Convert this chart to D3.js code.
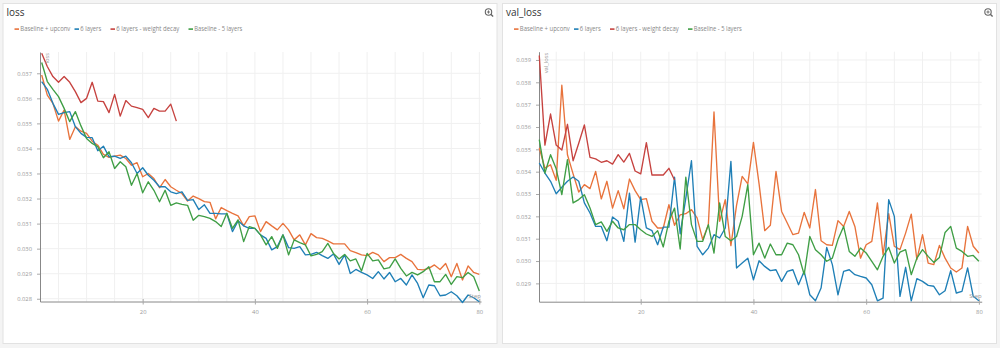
<!DOCTYPE html>
<html><head><meta charset="utf-8">
<script src="https://cdn.jsdelivr.net/npm/d3@7"></script>
<style>
html,body{margin:0;padding:0;background:#f4f4f4;}
svg{display:block;font-family:"Open Sans",sans-serif;}
</style></head>
<body><svg id="c" width="1000" height="348"></svg>
<script>
const steps = [2,3,4,5,6,7,8,9,10,11,12,13,14,15,16,17,18,19,20,21,22,23,24,25,26,27,28,29,30,31,32,33,34,35,36,37,38,39,40,41,42,43,44,45,46,47,48,49,50,51,52,53,54,55,56,57,58,59,60,61,62,63,64,65,66,67,68,69,70,71,72,73,74,75,76,77,78,79,80];
const seriesNames = ["Baseline + upconv","6 layers","6 layers - weight decay","Baseline - 5 layers"];
const seriesColors = ["#e8733c","#1f7fb6","#c6423f","#3f9e45"];

// loss
const lossUpconv = [0.03693,0.03613,0.0358,0.03509,0.03553,0.03436,0.03487,0.03469,0.0346,0.03429,0.03413,0.03376,0.03364,0.03369,0.03373,0.0336,0.03333,0.03343,0.03287,0.033,0.0328,0.03243,0.03276,0.03247,0.03233,0.0322,0.0319,0.0321,0.0320,
 0.03188,0.03185,0.03119,0.03164,0.03152,0.03141,0.03131,0.03091,0.03128,0.03131,0.03068,0.03108,0.03091,0.03075,0.03101,0.03075,0.03035,0.03055,0.03015,0.0306,0.03044,0.03041,0.03031,0.03019,0.03019,
 0.03019,0.02992,0.02984,0.02975,0.02972,0.02985,0.02975,0.02948,0.02964,0.02964,0.02977,0.02961,0.02948,0.02917,0.02915,0.02921,0.02935,0.02917,0.02941,0.02888,0.02941,0.02875,0.02931,0.02905,0.02897];
const loss6 = [0.03667,0.03636,0.0358,0.03536,0.03543,0.03547,0.03487,0.0346,0.03444,0.03443,0.03391,0.03409,0.03367,0.03369,0.0336,0.03369,0.03343,0.033,0.03323,0.03293,0.03273,0.03247,0.03247,0.03227,0.0322,0.03227,0.03193,0.03196,0.03156,
 0.03175,0.03141,0.03141,0.03139,0.03139,0.03068,0.03111,0.03091,0.03081,0.03081,0.03055,0.03041,0.02995,0.03008,0.03055,0.03004,0.03001,0.03008,0.02975,0.02977,0.02985,0.02972,0.02961,0.02979,0.02937,
 0.02975,0.02901,0.02917,0.02905,0.02895,0.02881,0.02908,0.02879,0.02905,0.02868,0.02881,0.02855,0.02895,0.02861,0.02804,0.02855,0.02852,0.02812,0.02815,0.02828,0.02812,0.02785,0.02815,0.02804,0.02788];
const lossWd = [0.0378,0.03727,0.03687,0.03664,0.03687,0.03664,0.03627,0.03583,0.0360,0.03664,0.03589,0.03587,0.03543,0.03616,0.03529,0.03591,0.03569,0.03563,0.03556,0.03523,0.0356,0.03549,0.03549,0.03577,0.03509];
const loss5 = [0.03743,0.03667,0.03636,0.03607,0.0356,0.03507,0.03547,0.0349,0.0344,0.0342,0.03407,0.03363,0.03387,0.0332,0.03347,0.03327,0.03253,0.033,0.03223,0.03267,0.03233,0.03187,0.03233,0.03173,0.03183,0.03177,0.03173,0.03113,0.03133,
 0.03128,0.03121,0.03108,0.03088,0.03141,0.03081,0.03115,0.03028,0.03088,0.03081,0.03055,0.03015,0.03048,0.03001,0.03055,0.02975,0.03035,0.03024,0.03015,0.02971,0.02977,0.02988,0.03021,0.02981,0.02959,
 0.02977,0.02951,0.02959,0.02911,0.02981,0.02951,0.02955,0.02919,0.02924,0.02959,0.02921,0.02891,0.02905,0.02895,0.02908,0.02928,0.02868,0.02868,0.02897,0.02857,0.02888,0.02884,0.02905,0.02888,0.02831];

// val_loss
const valUpconv = [0.03506,0.03416,0.03431,0.03361,0.03787,0.03476,0.0339,0.03309,0.03342,0.03324,0.03401,0.03278,0.03357,0.03237,0.03315,0.03234,0.03367,0.03315,0.03275,0.03279,0.03178,0.03148,0.03148,0.03252,0.0316,0.03207,0.03212,0.0323,
 0.03193,0.03096,0.03163,0.03667,0.03178,0.03275,0.03069,0.03249,0.03379,0.03345,0.03531,0.03345,0.03136,0.0316,0.03401,0.03222,0.0317,0.03118,0.03125,0.03218,0.03148,0.0332,0.03091,0.03073,0.0307,0.03181,
 0.03155,0.03222,0.03155,0.03013,0.03073,0.03088,0.0326,0.03028,0.03212,0.03066,0.03051,0.03125,0.0321,0.03006,0.03118,0.02991,0.02984,0.0307,0.03013,0.02969,0.02951,0.02969,0.03155,0.03066,0.03036];
const val6 = [0.03439,0.03394,0.03357,0.03301,0.0333,0.03357,0.03376,0.03357,0.0326,0.03215,0.03155,0.03155,0.03091,0.03197,0.03178,0.03088,0.03304,0.03085,0.03287,0.03148,0.03136,0.03073,0.03152,0.03152,0.03375,0.03122,0.03282,0.03449,
 0.03066,0.03028,0.03058,0.03118,0.03103,0.03148,0.03446,0.02969,0.02991,0.03013,0.02916,0.03001,0.02976,0.02957,0.02961,0.02909,0.02954,0.02961,0.02894,0.02954,0.02849,0.02822,0.02879,0.03061,0.02984,0.02849,
 0.02954,0.02961,0.02939,0.02931,0.02924,0.02894,0.02822,0.02834,0.03275,0.032,0.02842,0.02972,0.02822,0.02921,0.02909,0.02891,0.02887,0.02849,0.02867,0.02957,0.02857,0.02864,0.02969,0.02842,0.02822];
const valWd = [0.0392,0.03519,0.03658,0.03519,0.03497,0.03612,0.03449,0.03527,0.03609,0.03464,0.03457,0.03442,0.03449,0.03434,0.03476,0.03443,0.03482,0.03403,0.0339,0.0353,0.03385,0.03385,0.03385,0.03415,0.03363];
const val5 = [0.03543,0.03394,0.03476,0.03413,0.03297,0.03454,0.0326,0.03275,0.03297,0.03237,0.03163,0.03175,0.03133,0.03178,0.03148,0.0314,0.03163,0.03163,0.0314,0.03121,0.0311,0.03136,0.03063,0.03178,0.03237,0.03054,0.03375,0.03163,
 0.03088,0.03088,0.03163,0.03036,0.0326,0.0311,0.03091,0.0311,0.032,0.03342,0.03028,0.0308,0.03013,0.03076,0.03028,0.03028,0.0308,0.03073,0.03028,0.02939,0.0311,0.03051,0.03028,0.02999,0.03013,0.03096,
 0.03155,0.03043,0.03021,0.03058,0.03036,0.02999,0.02961,0.03021,0.03061,0.02991,0.0304,0.03051,0.02939,0.03013,0.03051,0.03021,0.02994,0.03016,0.03128,0.03155,0.03058,0.03043,0.03021,0.03025,0.02999];

const xTicks = [20,40,60,80];
const lossYTicks = [0.028,0.029,0.030,0.031,0.032,0.033,0.034,0.035,0.036,0.037];
const valYTicks = [0.029,0.030,0.031,0.032,0.033,0.034,0.035,0.036,0.037,0.038,0.039];
const gridSteps = [5,10,15,20,25,30,35,40,45,50,55,60,65,70,75,80];

const svg = d3.select("#c");

function panel(cfg){
  const g = svg.append("g");
  g.append("rect").attr("x",cfg.px+0.5).attr("y",3.5).attr("width",cfg.pw).attr("height",340)
    .attr("fill","#fff").attr("stroke","#e2e2e2");
  g.append("text").attr("x",cfg.px+4).attr("y",16).attr("font-size",10).attr("fill","#333").text(cfg.title);
  const ix = cfg.px+cfg.pw-8, iy = 12;
  g.append("circle").attr("cx",ix).attr("cy",iy).attr("r",3.2).attr("fill","none").attr("stroke","#666").attr("stroke-width",1.1);
  g.append("line").attr("x1",ix+2.3).attr("y1",iy+2.3).attr("x2",ix+4.6).attr("y2",iy+4.6).attr("stroke","#666").attr("stroke-width",1.4);
  g.append("line").attr("x1",ix-1.6).attr("y1",iy).attr("x2",ix+1.6).attr("y2",iy).attr("stroke","#666").attr("stroke-width",0.9);
  g.append("line").attr("x1",ix).attr("y1",iy-1.6).attr("x2",ix).attr("y2",iy+1.6).attr("stroke","#666").attr("stroke-width",0.9);
  // legend
  const legX = [12,72,108,186];
  const legW = [50,21,63,48];
  seriesNames.forEach((n,i)=>{
    const lx = cfg.px + legX[i];
    g.append("rect").attr("x",lx).attr("y",28.3).attr("width",4.5).attr("height",1.6).attr("fill",seriesColors[i]);
    g.append("text").attr("x",lx+5.8).attr("y",31.4).attr("font-size",6.2).attr("fill","#888")
      .attr("textLength",legW[i]).attr("lengthAdjust","spacingAndGlyphs").text(n);
  });

  const x = d3.scaleLinear().domain(cfg.xd).range(cfg.xr);
  const y = d3.scaleLinear().domain(cfg.yd).range(cfg.yr);
  g.append("g").selectAll("line").data(gridSteps).join("line")
    .attr("x1",d=>x(d)).attr("x2",d=>x(d)).attr("y1",cfg.yr[1]).attr("y2",cfg.yr[0])
    .attr("stroke","#f0f0f0").attr("stroke-width",1);
  g.append("g").selectAll("line").data(cfg.yTicks).join("line")
    .attr("x1",cfg.xr[0]).attr("x2",cfg.xr[1]).attr("y1",d=>y(d)).attr("y2",d=>y(d))
    .attr("stroke","#f0f0f0").attr("stroke-width",1);
  const ya = g.append("g").attr("transform",`translate(${cfg.xr[0]},0)`)
    .call(d3.axisLeft(y).tickValues(cfg.yTicks).tickFormat(d3.format(".3f")).tickSize(3).tickSizeOuter(0));
  ya.select(".domain").attr("stroke","#888");
  ya.selectAll(".tick line").attr("stroke","#aaa");
  ya.selectAll(".tick text").attr("font-size",5.8).attr("fill","#999").attr("font-family","Open Sans").attr("x",-8);
  const xa = g.append("g").attr("transform",`translate(0,${cfg.yr[0]})`)
    .call(d3.axisBottom(x).tickValues(xTicks).tickSize(3).tickSizeOuter(0));
  xa.select(".domain").attr("stroke","#888");
  xa.selectAll(".tick line").attr("stroke","#aaa").attr("y1",-2.5).attr("y2",3);
  xa.selectAll(".tick text").attr("font-size",5.8).attr("fill","#999").attr("font-family","Open Sans").attr("y",8);

  const line = d3.line().x(d=>x(d[0])).y(d=>y(d[1]));
  [0,1,2,3].forEach(i=>{
    const vals = cfg.series[i];
    const pts = vals.map((v,k)=>[steps[k],v]);
    g.append("path").datum(pts).attr("d",line).attr("fill","none")
      .attr("stroke",seriesColors[i]).attr("stroke-width",1.35).attr("stroke-linejoin","round");
  });
  g.append("text").attr("transform",`translate(${cfg.xr[0]+8.5},${cfg.yr[1]+1}) rotate(-90)`)
    .attr("text-anchor","end").attr("font-size",5.8).attr("fill","#999").text(cfg.title);
  g.append("text").attr("x",cfg.xr[1]).attr("y",cfg.yr[0]-3.5).attr("text-anchor","end")
    .attr("font-size",6).attr("fill","#999").text("Step");
}

panel({px:2.5, pw:494, title:"loss", xd:[1.7,80.3], xr:[40,481], yd:[0.02789,0.03785], yr:[301.5,52],
  yTicks:lossYTicks, series:[lossUpconv,loss6,lossWd,loss5]});
panel({px:502, pw:494, title:"val_loss", xd:[1.95,80.5], xr:[539,981.7], yd:[0.02818,0.03937], yr:[301.7,51.7],
  yTicks:valYTicks, series:[valUpconv,val6,valWd,val5]});
</script></body></html>
